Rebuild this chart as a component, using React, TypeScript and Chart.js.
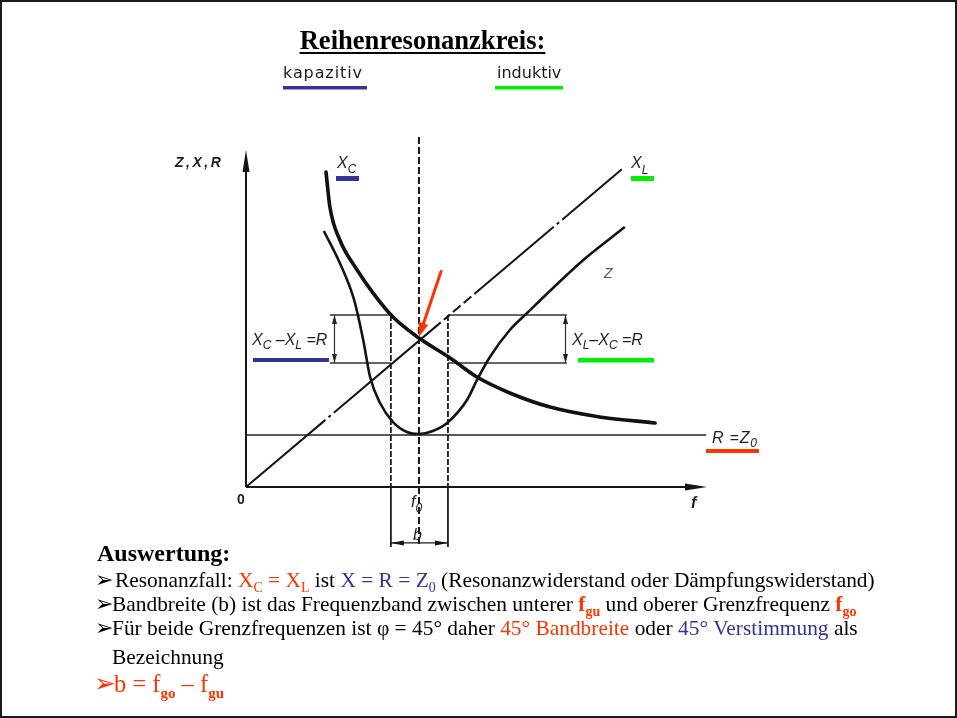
import React, { useEffect, useRef } from "react";
import { Chart, registerables } from "chart.js";
Chart.register(...registerables);

// ---- data (frequency f in units, reactance/impedance values in units) ----
const F0 = 4.0; // resonance frequency
const F_GU = 3.35; // lower cut-off
const F_GO = 4.67; // upper cut-off
const R_VALUE = 3.47; // R = Z0
const BOX_TOP = 11.47;
const BOX_BOTTOM = 8.27;
const X_MAX = 10.66;
const Y_MAX = 22.47;

const xcF = [1.85, 1.94, 2.17, 2.57, 2.94, 3.4, 4.0, 4.72, 5.34, 6.1, 7.03, 8.18, 9.46];
const xcV = [21.0, 18.67, 16.47, 14.47, 12.93, 11.33, 9.93, 8.6, 7.33, 6.27, 5.33, 4.67, 4.27];

const zF = [1.8, 2.17, 2.5, 2.71, 2.87, 3.1, 3.4, 3.72, 4.0, 4.32, 4.65, 5.11, 5.34, 5.64, 6.1, 6.5, 7.1, 7.88, 8.76];
const zV = [17.07, 14.93, 12.47, 9.8, 7.33, 5.6, 4.33, 3.67, 3.53, 3.73, 4.27, 5.8, 7.13, 8.67, 10.47, 11.6, 13.27, 15.33, 17.33];

const xlF = [0, 8.69];
const xlV = [0, 21.18];

const rF = [0, 10.64];

const TITLE = "Reihenresonanzkreis:";
const AXIS_Y_LABEL = "Z,X,R";
const AXIS_X_LABEL = "f";

const RED = "#ff3300";
const BLUE = "#333399";
const GREEN = "#00ee00";
const SERIF = "'Liberation Serif', 'Times New Roman', serif";
const SANS = "'Liberation Sans', Arial, sans-serif";

type Run = { t: string; c?: string; f: string; dy?: number };

function drawRuns(ctx: CanvasRenderingContext2D, x: number, y: number, runs: Run[], spacing = 0) {
  for (const r of runs) {
    ctx.font = r.f;
    ctx.fillStyle = r.c || "#111";
    (ctx as any).letterSpacing = spacing + "px";
    ctx.fillText(r.t, x, y + (r.dy || 0));
    x += ctx.measureText(r.t).width;
  }
  (ctx as any).letterSpacing = "0px";
  return x;
}

function arrowHead(ctx: CanvasRenderingContext2D, x1: number, y1: number, x2: number, y2: number, len: number, half: number) {
  const a = Math.atan2(y2 - y1, x2 - x1);
  const bx = x2 - Math.cos(a) * len;
  const by = y2 - Math.sin(a) * len;
  ctx.beginPath();
  ctx.moveTo(x2, y2);
  ctx.lineTo(bx + Math.sin(a) * half, by - Math.cos(a) * half);
  ctx.lineTo(bx - Math.sin(a) * half, by + Math.cos(a) * half);
  ctx.closePath();
  ctx.fill();
}

function line(ctx: CanvasRenderingContext2D, x1: number, y1: number, x2: number, y2: number) {
  ctx.beginPath();
  ctx.moveTo(x1, y1);
  ctx.lineTo(x2, y2);
  ctx.stroke();
}

const diagramPlugin = {
  id: "diagram",
  beforeDraw(chart: any) {
    const ctx = chart.ctx as CanvasRenderingContext2D;
    ctx.save();
    ctx.fillStyle = "#ffffff";
    ctx.fillRect(0, 0, chart.width, chart.height);
    ctx.restore();
  },
  beforeDatasetsDraw(chart: any) {
    const ctx = chart.ctx as CanvasRenderingContext2D;
    const xs = chart.scales.x;
    const ys = chart.scales.y;
    const px = (v: number) => xs.getPixelForValue(v);
    const py = (v: number) => ys.getPixelForValue(v);
    ctx.save();
    ctx.strokeStyle = "#151515";
    ctx.fillStyle = "#151515";
    ctx.lineCap = "butt";

    // axes
    ctx.lineWidth = 2;
    line(ctx, px(0), py(0), px(X_MAX) - 16, py(0));
    arrowHead(ctx, px(0), py(0), px(X_MAX), py(0), 22, 3.5);
    line(ctx, px(0), py(0), px(0), py(Y_MAX) + 16);
    arrowHead(ctx, px(0), py(0), px(0), py(Y_MAX), 22, 3.5);

    // R = Z0 line
    ctx.lineWidth = 1.6;
    ctx.strokeStyle = "#222";
    line(ctx, px(rF[0]), py(R_VALUE), px(rF[1]), py(R_VALUE));

    // box lines
    ctx.lineWidth = 1.4;
    ctx.strokeStyle = "#333";
    const boxL = 1.94, boxR = 7.42;
    line(ctx, px(boxL), py(BOX_TOP), px(F_GU), py(BOX_TOP));
    line(ctx, px(boxL), py(BOX_BOTTOM), px(F_GU), py(BOX_BOTTOM));
    line(ctx, px(F_GO), py(BOX_TOP), px(boxR), py(BOX_TOP));
    line(ctx, px(F_GO), py(BOX_BOTTOM), px(boxR), py(BOX_BOTTOM));

    // double arrows in boxes
    ctx.fillStyle = "#222";
    for (const ax of [2.03, 7.38]) {
      const x = Math.round(px(ax)) + 0.5;
      ctx.lineWidth = 1.2;
      line(ctx, x, py(BOX_BOTTOM), x, py(BOX_TOP));
      arrowHead(ctx, x, py(BOX_BOTTOM), x, py(BOX_TOP), 9, 2.5);
      arrowHead(ctx, x, py(BOX_TOP), x, py(BOX_BOTTOM), 9, 2.5);
    }

    // f0 dashed line
    ctx.strokeStyle = "#1a1a1a";
    ctx.lineWidth = 2;
    ctx.setLineDash([7, 3]);
    line(ctx, px(F0), py(23.33), px(F0), py(-4.0));

    // cut-off lines
    ctx.lineWidth = 1.8;
    ctx.setLineDash([6, 2]);
    line(ctx, px(F_GU), py(BOX_TOP), px(F_GU), py(0));
    line(ctx, px(F_GO), py(BOX_TOP), px(F_GO), py(0));
    ctx.setLineDash([]);
    line(ctx, px(F_GU), py(0), px(F_GU), py(-4.0));
    line(ctx, px(F_GO), py(0), px(F_GO), py(-4.0));

    // b dimension
    ctx.lineWidth = 1.3;
    ctx.fillStyle = "#111";
    const by = py(-3.73);
    line(ctx, px(F_GU), by, px(F_GO), by);
    arrowHead(ctx, px(F_GO), by, px(F_GU), by, 13, 2.5);
    arrowHead(ctx, px(F_GU), by, px(F_GO), by, 13, 2.5);
    ctx.restore();
  },
  afterDatasetsDraw(chart: any) {
    const ctx = chart.ctx as CanvasRenderingContext2D;
    const xs = chart.scales.x;
    const ys = chart.scales.y;
    const px = (v: number) => xs.getPixelForValue(v);
    const py = (v: number) => ys.getPixelForValue(v);
    ctx.save();

    // red arrow to resonance point
    ctx.strokeStyle = RED;
    ctx.fillStyle = RED;
    ctx.lineWidth = 3;
    const sx = px(4.52), sy = py(14.45), tx = px(F0), ty = py(10.02);
    const a = Math.atan2(ty - sy, tx - sx);
    line(ctx, sx, sy, tx - Math.cos(a) * 10, ty - Math.sin(a) * 10);
    arrowHead(ctx, sx, sy, tx, ty, 14, 5);

    // coloured underline bars
    ctx.fillStyle = BLUE;
    ctx.fillRect(336, 176, 23, 5);
    ctx.fillRect(253, 358, 76, 4);
    ctx.fillRect(283, 86, 84, 3.5);
    ctx.fillStyle = GREEN;
    ctx.fillRect(631, 176, 23, 5);
    ctx.fillRect(578, 358, 76, 4.5);
    ctx.fillRect(495, 86, 68, 3.5);
    ctx.fillStyle = RED;
    ctx.fillRect(706, 449, 53, 4);

    // diagram labels
    ctx.textBaseline = "alphabetic";
    ctx.textAlign = "left";
    const L = "italic 16px " + SANS;
    const S = "italic 12px " + SANS;
    const G = "#1e1e1e";
    drawRuns(ctx, 175, 167, [{ t: AXIS_Y_LABEL, f: "italic bold 14px " + SANS, c: G }], 2.5);
    drawRuns(ctx, 337, 168, [{ t: "X", f: L, c: G }, { t: "C", f: S, c: G, dy: 5 }]);
    drawRuns(ctx, 631, 168, [{ t: "X", f: L, c: G }, { t: "L", f: S, c: G, dy: 6 }]);
    drawRuns(ctx, 604, 278, [{ t: "Z", f: "italic 14px " + SANS, c: "#555" }]);
    drawRuns(ctx, 252, 345, [
      { t: "X", f: L, c: G }, { t: "C", f: S, c: G, dy: 4 },
      { t: " \u2013X", f: L, c: G }, { t: "L", f: S, c: G, dy: 4 },
      { t: " =R", f: L, c: G },
    ]);
    drawRuns(ctx, 572, 345, [
      { t: "X", f: L, c: G }, { t: "L", f: S, c: G, dy: 4 },
      { t: "\u2013X", f: L, c: G }, { t: "C", f: S, c: G, dy: 4 },
      { t: " =R", f: L, c: G },
    ]);
    drawRuns(ctx, 712, 443, [
      { t: "R =Z", f: L, c: G }, { t: "0", f: S, c: G, dy: 4 },
    ], 0.8);
    drawRuns(ctx, 237, 504, [{ t: "0", f: "bold 14px " + SANS, c: G }]);
    drawRuns(ctx, 411, 507, [{ t: "f", f: L, c: G }, { t: "0", f: S, c: G, dy: 5 }]);
    drawRuns(ctx, 691, 508, [{ t: AXIS_X_LABEL, f: "italic bold 16px " + SANS, c: G }]);
    drawRuns(ctx, 413, 540, [{ t: "b", f: L, c: G }]);

    // kapazitiv / induktiv
    drawRuns(ctx, 283, 78, [{ t: "kapazitiv", f: "16px 'DejaVu Sans', sans-serif", c: "#1a1a1a" }], 0.9);
    drawRuns(ctx, 497, 78, [{ t: "induktiv", f: "16px 'DejaVu Sans', sans-serif", c: "#1a1a1a" }]);

    // title
    ctx.font = "bold 26.6px " + SERIF;
    ctx.fillStyle = "#000";
    const tw = ctx.measureText(TITLE).width;
    const tcx = 422.5;
    ctx.fillText(TITLE, tcx - tw / 2, 49);
    ctx.fillRect(tcx - tw / 2, 52, tw, 2);

    // bottom text
    const N = "21.4px " + SERIF;
    const NS = "14px " + SERIF;
    const B = "bold 21.4px " + SERIF;
    const BS = "bold 14px " + SERIF;
    const BUL = "22px 'DejaVu Sans', sans-serif";
    drawRuns(ctx, 97, 561, [{ t: "Auswertung:", f: "bold 24px " + SERIF, c: "#000" }]);

    drawRuns(ctx, 95, 587, [{ t: "\u27A2", f: BUL, c: "#000" }]);
    drawRuns(ctx, 115, 587, [
      { t: "Resonanzfall: ", f: N, c: "#000" },
      { t: "X", f: N, c: RED }, { t: "C", f: NS, c: RED, dy: 5 },
      { t: " = X", f: N, c: RED }, { t: "L", f: NS, c: RED, dy: 5 },
      { t: " ist ", f: N, c: "#000" },
      { t: "X = R = Z", f: N, c: BLUE }, { t: "0", f: NS, c: BLUE, dy: 5 },
      { t: " (Resonanzwiderstand oder D\u00e4mpfungswiderstand)", f: N, c: "#000" },
    ]);

    drawRuns(ctx, 95, 611, [{ t: "\u27A2", f: BUL, c: "#000" }]);
    drawRuns(ctx, 112, 611, [
      { t: "Bandbreite (b) ist das Frequenzband zwischen unterer ", f: N, c: "#000" },
      { t: "f", f: B, c: RED }, { t: "gu", f: BS, c: RED, dy: 5 },
      { t: " und oberer Grenzfrequenz ", f: N, c: "#000" },
      { t: "f", f: B, c: RED }, { t: "go", f: BS, c: RED, dy: 5 },
    ]);

    drawRuns(ctx, 95, 635, [{ t: "\u27A2", f: BUL, c: "#000" }]);
    drawRuns(ctx, 112, 635, [
      { t: "F\u00fcr beide Grenzfrequenzen ist \u03c6 = 45\u00b0 daher ", f: N, c: "#000" },
      { t: "45\u00b0 Bandbreite", f: N, c: RED },
      { t: " oder ", f: N, c: "#000" },
      { t: "45\u00b0 Verstimmung", f: N, c: BLUE },
      { t: " als", f: N, c: "#000" },
    ]);
    drawRuns(ctx, 112, 664, [{ t: "Bezeichnung", f: N, c: "#000" }]);

    drawRuns(ctx, 94, 692, [{ t: "\u27A2", f: "26px 'DejaVu Sans', sans-serif", c: RED }]);
    drawRuns(ctx, 114, 692, [
      { t: "b = f", f: "24.5px " + SERIF, c: RED },
      { t: "go", f: "bold 15px " + SERIF, c: RED, dy: 6 },
      { t: " \u2013 f", f: "24.5px " + SERIF, c: RED },
      { t: "gu", f: "bold 15px " + SERIF, c: RED, dy: 6 },
    ]);

    // frame
    ctx.strokeStyle = "#1a1a1a";
    ctx.lineWidth = 2;
    ctx.strokeRect(1, 1, 955, 716);
    ctx.restore();
  },
};

const pts = (xsArr: number[], ysArr: number[]) => xsArr.map((x, i) => ({ x, y: ysArr[i] }));

export default function App() {
  const ref = useRef<HTMLCanvasElement | null>(null);
  useEffect(() => {
    document.body.style.margin = "0";
    document.body.style.overflow = "hidden";
    const canvas = ref.current;
    if (!canvas) return;
    const chart = new Chart(canvas, {
      type: "scatter",
      data: {
        datasets: [
          {
            label: "XL",
            data: pts(xlF, xlV),
            showLine: true,
            borderColor: "#141414",
            borderWidth: 2,
            pointRadius: 0,
            borderDash: [104, 4, 3, 4, 140, 4, 8, 4, 10, 4, 10, 4, 104, 4, 3, 4, 100],
            clip: false,
          } as any,
          {
            label: "Z",
            data: pts(zF, zV),
            showLine: true,
            borderColor: "#141414",
            borderWidth: 2.6,
            pointRadius: 0,
            cubicInterpolationMode: "monotone",
            clip: false,
          } as any,
          {
            label: "XC",
            data: pts(xcF, xcV),
            showLine: true,
            borderColor: "#111",
            borderWidth: 3.6,
            pointRadius: 0,
            borderCapStyle: "round",
            cubicInterpolationMode: "monotone",
            clip: false,
          } as any,
        ],
      },
      options: {
        responsive: false,
        maintainAspectRatio: false,
        devicePixelRatio: 1,
        animation: false,
        events: [],
        layout: { padding: { left: 246, right: 250, top: 150, bottom: 231 } },
        plugins: { legend: { display: false }, tooltip: { enabled: false }, title: { display: false } },
        scales: {
          x: { type: "linear", min: 0, max: X_MAX, display: false },
          y: { type: "linear", min: 0, max: Y_MAX, display: false },
        },
      },
      plugins: [diagramPlugin],
    } as any);
    return () => chart.destroy();
  }, []);
  return (
    <div style={{ width: 957, height: 718, position: "relative" }}>
      <canvas ref={ref} width={957} height={718} style={{ display: "block", width: 957, height: 718 }} />
    </div>
  );
}
